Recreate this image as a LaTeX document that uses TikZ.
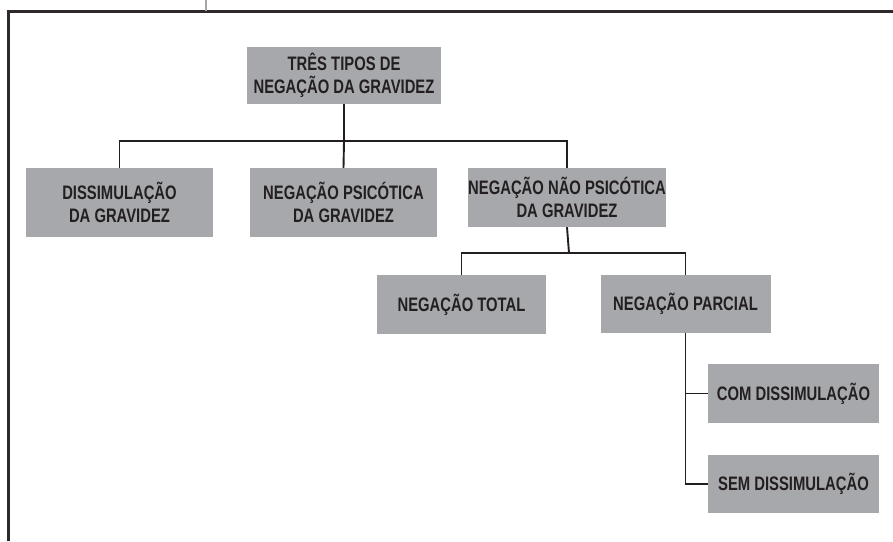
\documentclass[tikz,border=0pt]{standalone}
\usepackage{fontspec}
\setmainfont{Liberation Sans}[FakeStretch=0.76]
\usepackage{tikz}
\usetikzlibrary{
	positioning,
	calc
}
\usepackage{xcolor}
\definecolor{boxgray}{HTML}{A7A8AB}
\definecolor{inkdark}{HTML}{231F20}

\begin{document}
\begin{tikzpicture}[x=1pt,y=-1pt,
	tipo/.style={fill=boxgray, text=inkdark, inner sep=0pt, align=center,
		font=\bfseries\fontsize{19.5}{23.5}\selectfont},
	liga/.style={draw=inkdark, line width=1.9pt}
	]
		
		\useasboundingbox (0,0) rectangle (893,541);
		
		% moldura
		\draw[line width=2.6pt, draw=inkdark!95] (8.5,541) -- (8.5,11.5) -- (893,11.5);
		\draw[line width=1.8pt, draw=gray!70] (206,0) -- (206,10.5);
		
		\node[tipo, minimum width=194, minimum height=57] (tres) at (344,75.5)
		{TRÊS TIPOS DE\\NEGAÇÃO DA GRAVIDEZ};
		
		\node[tipo, minimum width=187, minimum height=69] (dissim) at (119.5,202.5)
		{DISSIMULAÇÃO\\DA GRAVIDEZ};
		\node[tipo, minimum width=187, minimum height=69] (psicot) at (343.5,202.5)
		{NEGAÇÃO PSICÓTICA\\DA GRAVIDEZ};
		\node[tipo, minimum width=194, minimum height=59] (naopsi) at (567,197.5)
		{NEGAÇÃO NÃO PSICÓTICA\\DA GRAVIDEZ};
		
		\node[tipo, minimum width=169, minimum height=59] (total) at (461.5,304.5)
		{NEGAÇÃO TOTAL};
		\node[tipo, minimum width=170, minimum height=58] (parcial) at (685.5,304)
		{NEGAÇÃO PARCIAL};
		
		\node[tipo, minimum width=171, minimum height=59] (com) at (793.5,393.5)
		{COM DISSIMULAÇÃO};
		\node[tipo, minimum width=171, minimum height=58] (sem) at (793.5,484)
		{SEM DISSIMULAÇÃO};
		
		\coordinate (n1) at (344,141);
		\coordinate (n2) at (569,253);
		
		\draw[liga] (tres.south) -- (n1);
		\draw[liga] (dissim.north) |- (n1) -| (naopsi.north);
		\draw[liga] (n1) -- (psicot.north);
		
		\draw[liga] (naopsi.south) -- (n2);
		\draw[liga] (total.north) |- (n2) -| (parcial.north);
		
		\draw[liga] (parcial.south) |- (com.west);
		\draw[liga] (parcial.south) |- (sem.west);
		
	\end{tikzpicture}
\end{document}
